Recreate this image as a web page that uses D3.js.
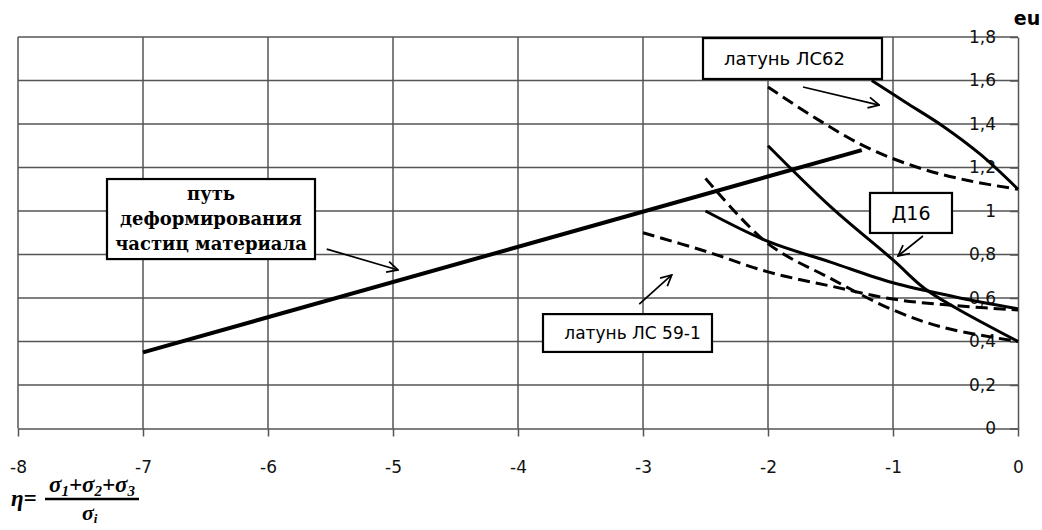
<!DOCTYPE html>
<html>
<head>
<meta charset="utf-8">
<script src="https://cdn.jsdelivr.net/npm/d3@7"></script>
<style>
  body { margin: 0; background: #fff; }
  svg { display: block; }
</style>
</head>
<body>
<div id="chart"></div>
<script>
// tick labels
var xTicks = [-8, -7, -6, -5, -4, -3, -2, -1, 0];
var yTicks = [0, 0.2, 0.4, 0.6, 0.8, 1, 1.2, 1.4, 1.6, 1.8];

// deformation path of material particles
var pathEta = [-7, -1.25];
var pathEu = [0.35, 1.28];

// ЛС62
var ls62SolidEta = [-1.17, -0.9, -0.6, -0.3, 0];
var ls62SolidEu = [1.6, 1.5, 1.39, 1.26, 1.1];
var ls62DashEta = [-2, -1.6, -1.2, -0.8, -0.4, 0];
var ls62DashEu = [1.57, 1.42, 1.29, 1.2, 1.14, 1.1];

// Д16
var d16SolidEta = [-2, -1.5, -1, -0.75, -0.5, 0];
var d16SolidEu = [1.3, 1.02, 0.775, 0.645, 0.555, 0.4];
var d16DashEta = [-2.5, -2, -1.5, -1, -0.6, 0];
var d16DashEu = [1.15, 0.85, 0.69, 0.545, 0.465, 0.4];

// ЛС 59-1
var ls59SolidEta = [-2.5, -2, -1.5, -1, -0.5, 0];
var ls59SolidEu = [1.0, 0.86, 0.765, 0.67, 0.605, 0.55];
var ls59DashEta = [-3, -2.5, -2, -1.5, -1, -0.5, 0];
var ls59DashEu = [0.9, 0.815, 0.72, 0.655, 0.595, 0.565, 0.545];

function zip(a, b) {
    return a.map(function (v, i) { return [v, b[i]]; });
}

var series = [
    { pts: zip(pathEta, pathEu), dash: false, w: 4 },
    { pts: zip(ls62SolidEta, ls62SolidEu), dash: false, w: 3 },
    { pts: zip(ls62DashEta, ls62DashEu), dash: true, w: 3 },
    { pts: zip(d16SolidEta, d16SolidEu), dash: false, w: 3 },
    { pts: zip(d16DashEta, d16DashEu), dash: true, w: 3 },
    { pts: zip(ls59SolidEta, ls59SolidEu), dash: false, w: 3 },
    { pts: zip(ls59DashEta, ls59DashEu), dash: true, w: 3 }
];

// label boxes (data coordinates) and arrows
var boxes = [
    { x0: -7.288, x1: -5.624, y0: 0.779, y1: 1.147, lines: ["путь", "деформирования", "частиц материала"], serif: true, fs: 18 },
    { x0: -2.52, x1: -1.088, y0: 1.607, y1: 1.795, lines: ["латунь ЛС62"], dx: -8, fs: 18 },
    { x0: -1.184, x1: -0.528, y0: 0.899, y1: 1.083, lines: ["Д16"], fs: 19 },
    { x0: -3.8, x1: -2.448, y0: 0.352, y1: 0.526, lines: ["латунь ЛС 59-1"], dx: 5, fs: 17 }
];
var arrows = [
    [[-5.53, 0.825], [-4.96, 0.729]],
    [[-1.72, 1.57], [-1.11, 1.487]],
    [[-0.76, 0.885], [-0.96, 0.793]],
    [[-3.03, 0.572], [-2.77, 0.706]]
];

var width = 1042, height = 530;
var sans = "DejaVu Sans, sans-serif";

var svg = d3.select("#chart")
    .append("svg")
    .attr("width", width)
    .attr("height", height);

var x = d3.scaleLinear().domain([-8, 0]).range([18, 1018]);
var y = d3.scaleLinear().domain([0, 1.8]).range([428.5, 37]);

var fmt = function (d) { return String(d).replace(".", ","); };

// grid
svg.append("g")
    .selectAll("line")
    .data(yTicks.slice(1))
    .enter().append("line")
    .attr("x1", x(-8)).attr("x2", x(0))
    .attr("y1", function (d) { return y(d); })
    .attr("y2", function (d) { return y(d); })
    .attr("stroke", "#555").attr("stroke-width", 1.5);

svg.append("g")
    .selectAll("line")
    .data(xTicks.slice(0, -1))
    .enter().append("line")
    .attr("x1", function (d) { return x(d); })
    .attr("x2", function (d) { return x(d); })
    .attr("y1", y(1.8)).attr("y2", y(0))
    .attr("stroke", "#555").attr("stroke-width", 1.5);

// x axis
var xAxis = svg.append("g")
    .attr("transform", "translate(0," + y(0) + ")")
    .call(d3.axisBottom(x).tickValues(xTicks).tickFormat(function (d) { return String(d); })
        .tickSize(8).tickPadding(24).tickSizeOuter(0));
xAxis.select(".domain").attr("stroke", "#555").attr("stroke-width", 1.5);
xAxis.selectAll(".tick line").attr("stroke", "#555").attr("stroke-width", 1.5);
xAxis.selectAll("text")
    .attr("font-family", sans)
    .attr("font-size", 17)
    .attr("fill", "#111");

// y axis at eta = 0, labels on the left
var yAxis = svg.append("g")
    .attr("transform", "translate(" + x(0) + ",0)")
    .call(d3.axisLeft(y).tickValues(yTicks).tickFormat(fmt).tickSize(8).tickPadding(14).tickSizeOuter(0));
yAxis.select(".domain").attr("stroke", "#555").attr("stroke-width", 1.5);
yAxis.selectAll(".tick line").attr("stroke", "#555").attr("stroke-width", 1.5);
yAxis.selectAll("text")
    .attr("font-family", sans)
    .attr("font-size", 17)
    .attr("fill", "#111");

// curves
var line = d3.line()
    .x(function (d) { return x(d[0]); })
    .y(function (d) { return y(d[1]); })
    .curve(d3.curveCatmullRom.alpha(0.5));

svg.append("g")
    .selectAll("path")
    .data(series)
    .enter().append("path")
    .attr("d", function (d) { return line(d.pts); })
    .attr("fill", "none")
    .attr("stroke", "#000")
    .attr("stroke-width", function (d) { return d.w; })
    .attr("stroke-dasharray", function (d) { return d.dash ? "12,6" : null; });

// arrows
svg.append("defs").append("marker")
    .attr("id", "arr")
    .attr("viewBox", "0 0 12 12")
    .attr("refX", 11).attr("refY", 6)
    .attr("markerWidth", 13).attr("markerHeight", 13)
    .attr("markerUnits", "userSpaceOnUse")
    .attr("orient", "auto")
    .append("path")
    .attr("d", "M1,1 L11,6 L1,11")
    .attr("fill", "none")
    .attr("stroke", "#000")
    .attr("stroke-width", 1.6);

svg.append("g")
    .selectAll("line")
    .data(arrows)
    .enter().append("line")
    .attr("x1", function (d) { return x(d[0][0]); })
    .attr("y1", function (d) { return y(d[0][1]); })
    .attr("x2", function (d) { return x(d[1][0]); })
    .attr("y2", function (d) { return y(d[1][1]); })
    .attr("stroke", "#000")
    .attr("stroke-width", 1.7)
    .attr("marker-end", "url(#arr)");

// label boxes
var bx = svg.append("g")
    .selectAll("g")
    .data(boxes)
    .enter().append("g");

bx.append("rect")
    .attr("x", function (d) { return x(d.x0); })
    .attr("y", function (d) { return y(d.y1); })
    .attr("width", function (d) { return x(d.x1) - x(d.x0); })
    .attr("height", function (d) { return y(d.y0) - y(d.y1); })
    .attr("fill", "#fff")
    .attr("stroke", "#000")
    .attr("stroke-width", 2.2);

bx.each(function (d) {
    var g = d3.select(this);
    var cx = (x(d.x0) + x(d.x1)) / 2 + (d.dx || 0);
    var cy = (y(d.y0) + y(d.y1)) / 2;
    var lh = 25;
    d.lines.forEach(function (t, i) {
        g.append("text")
            .attr("x", cx)
            .attr("y", cy + (i - (d.lines.length - 1) / 2) * lh)
            .attr("dy", "0.35em")
            .attr("text-anchor", "middle")
            .attr("font-family", d.serif ? "DejaVu Serif, serif" : sans)
            .attr("font-weight", d.serif ? "bold" : "normal")
            .attr("font-size", d.fs)
            .attr("fill", "#000")
            .text(t);
    });
});

// axis titles
svg.append("text")
    .attr("x", 1027).attr("y", 25)
    .attr("text-anchor", "middle")
    .attr("font-family", sans)
    .attr("font-weight", "bold")
    .attr("font-size", 19)
    .text("eu");

var eta = svg.append("g")
    .attr("font-family", "Liberation Serif, serif")
    .attr("font-weight", "bold")
    .attr("font-style", "italic");
eta.append("text")
    .attr("x", 11).attr("y", 506)
    .attr("font-size", 23)
    .text("η=");
var num = eta.append("text")
    .attr("x", 92).attr("y", 492)
    .attr("text-anchor", "middle")
    .attr("font-size", 23);
num.append("tspan").text("σ");
num.append("tspan").attr("font-size", 15).attr("dy", 4).text("1");
num.append("tspan").attr("dy", -4).text("+σ");
num.append("tspan").attr("font-size", 15).attr("dy", 4).text("2");
num.append("tspan").attr("dy", -4).text("+σ");
num.append("tspan").attr("font-size", 15).attr("dy", 4).text("3");
eta.append("line")
    .attr("x1", 45).attr("x2", 139)
    .attr("y1", 499).attr("y2", 499)
    .attr("stroke", "#000").attr("stroke-width", 2.5);
var den = eta.append("text")
    .attr("x", 82).attr("y", 520)
    .attr("font-size", 22);
den.append("tspan").text("σ");
den.append("tspan").attr("font-size", 13).attr("dy", 3).text("i");
</script>
</body>
</html>
